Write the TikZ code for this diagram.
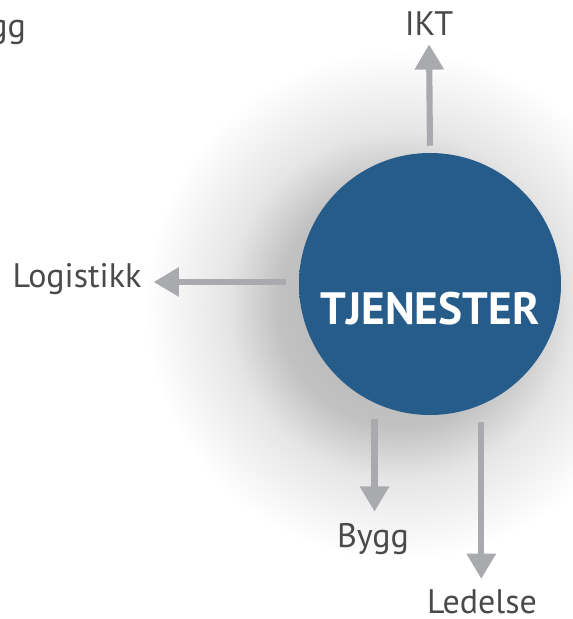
\documentclass[tikz,border=0pt]{standalone}
\usepackage{fontspec}
\setmainfont{PT Sans}
\usetikzlibrary{positioning,arrows.meta}
\definecolor{labelgray}{HTML}{4A4A4D}
\definecolor{arrowgray}{HTML}{A9AAAE}
\definecolor{blueleft}{HTML}{3C8AC4}
\definecolor{bluemid}{HTML}{265C8A}
\definecolor{blueright}{HTML}{225784}
\pgfdeclareradialshading{haloshade}{\pgfpoint{0bp}{0bp}}{%
  color(0bp)=(black!32); color(12bp)=(black!24); color(17bp)=(black!10);
  color(25bp)=(white); color(50bp)=(white)}
\pgfdeclarehorizontalshading{ballshade}{100bp}{%
  color(0bp)=(blueleft); color(25bp)=(bluemid); color(70bp)=(bluemid);
  color(100bp)=(blueright)}
\tikzset{
  >={Triangle[width=21pt,length=19pt]},
  every label node/.style={text=labelgray, font=\fontsize{25.5}{25.5}\selectfont, inner sep=0pt},
  flow/.style={->, draw=arrowgray, line width=4.6pt}
}

\begin{document}
\begin{tikzpicture}[x=0.75pt,y=-0.75pt]
      \useasboundingbox (0,0) rectangle (573,619);
      % soft shadow behind the ball
      \shade[shading=haloshade] (400,305) circle (255);
      \shade[shading=ballshade] (430,284) circle (131);
      \node[circle, minimum size=262*0.75pt, inner sep=0pt] (tjen) at (430,284) {};
      \node[text=white, font=\fontsize{34}{34}\bfseries\selectfont] (tjentext) at (430,309) {TJENESTER};

      \node[every label node, anchor=base] (ikt) at (429,35) {IKT};
      \node[every label node, anchor=base] (logistikk) at (77,287) {Logistikk};
      \node[every label node, anchor=base] (bygg) at (373,547) {Bygg};
      \node[every label node, anchor=base] (ledelse) at (482,613) {Ledelse};
      \node[every label node, anchor=base east] (bygg2) at (26,37) {Bygg};

      \draw[flow, shorten <=7*0.75pt, shorten >=9*0.75pt] (tjen.north) -- (ikt.south);
      \draw[flow, shorten <=13*0.75pt, shorten >=12*0.75pt] (tjen.west |- 0,282) -- (logistikk.east |- 0,282);
      \draw[flow, shorten <=16*0.75pt, shorten >=11*0.75pt] (tjen.-115) -- (tjen.-115 |- bygg.north);
      \draw[flow, shorten <=17*0.75pt, shorten >=10*0.75pt] (tjen.-67) -- (tjen.-67 |- ledelse.north);
    \end{tikzpicture}
\end{document}
